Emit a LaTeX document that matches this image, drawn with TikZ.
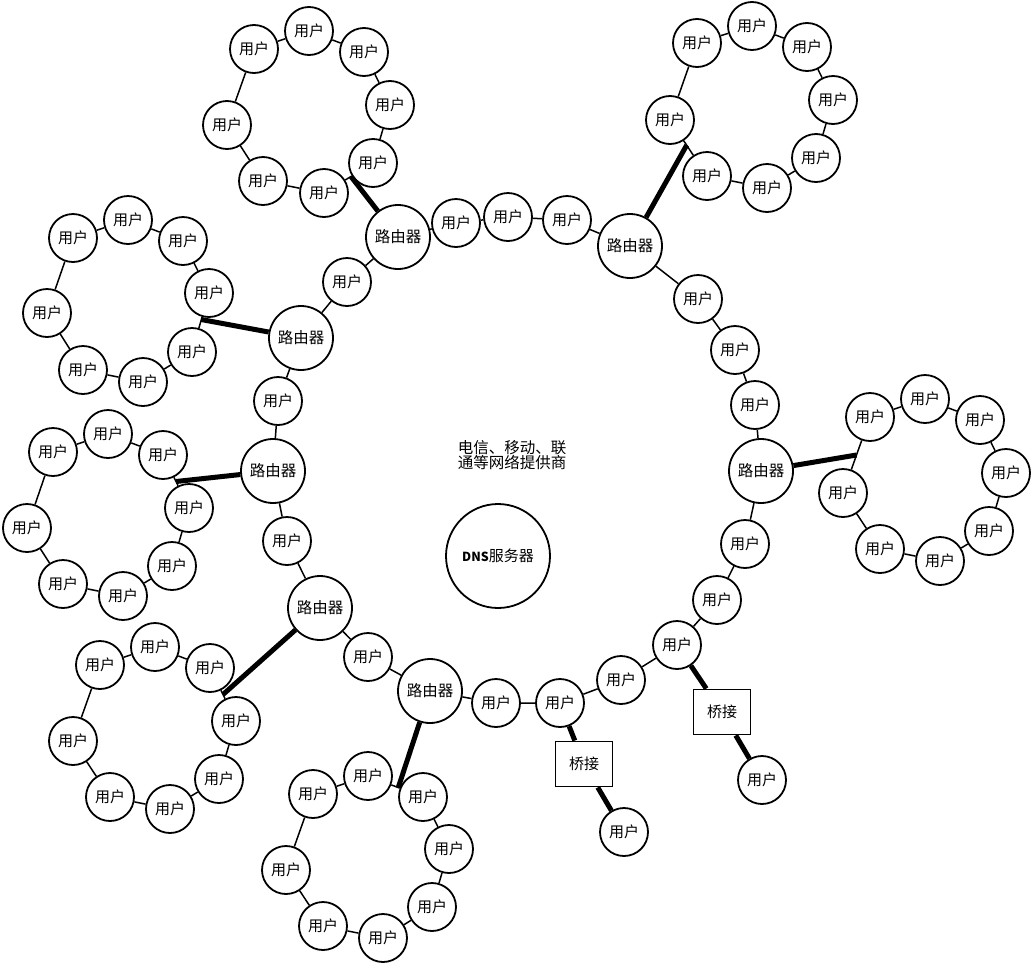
\documentclass[tikz,border=0pt]{standalone}
\usepackage{fontspec}
\setmainfont{Noto Sans CJK SC}
\usetikzlibrary{calc}

\tikzset{
  yonghu/.style={circle, draw, line width=1.8pt, fill=white, minimum size=48pt, inner sep=0pt, font=\fontsize{15}{15}\selectfont},
  luyou/.style={circle, draw, line width=1.8pt, fill=white, minimum size=64pt, inner sep=0pt, font=\fontsize{15.5}{15}\selectfont},
  qiaojie/.style={rectangle, draw, line width=1.8pt, fill=white, minimum width=57pt, minimum height=45pt, inner sep=0pt, font=\fontsize{15}{15}\selectfont},
  xian/.style={line width=1.5pt},
  cuxian/.style={line width=5pt},
}

\begin{document}
\begin{tikzpicture}[x=1pt, y=-1pt]
  \useasboundingbox (0,0) rectangle (1032,964);

  % 主环：路由器
  \node[luyou] (r1) at (398,237) {路由器};
  \node[luyou] (r2) at (630,246) {路由器};
  \node[luyou] (r3) at (761,471) {路由器};
  \node[luyou] (r4) at (301,338) {路由器};
  \node[luyou] (r5) at (273,471) {路由器};
  \node[luyou] (r6) at (320,608) {路由器};
  \node[luyou] (r7) at (430,691) {路由器};

  % 主环：用户
  \node[yonghu] (m1) at (456,223) {用户};
  \node[yonghu] (m2) at (508,217) {用户};
  \node[yonghu] (m3) at (567,220) {用户};
  \node[yonghu] (m4) at (698,299) {用户};
  \node[yonghu] (m5) at (735,350) {用户};
  \node[yonghu] (m6) at (755,405) {用户};
  \node[yonghu] (m7) at (745,544) {用户};
  \node[yonghu] (m8) at (717,600) {用户};
  \node[yonghu] (m9) at (677,645) {用户};
  \node[yonghu] (m10) at (621,680) {用户};
  \node[yonghu] (m11) at (560,703) {用户};
  \node[yonghu] (m12) at (496,703) {用户};
  \node[yonghu] (m13) at (368,657) {用户};
  \node[yonghu] (m14) at (287,541) {用户};
  \node[yonghu] (m15) at (278,401) {用户};
  \node[yonghu] (m16) at (347,282) {用户};

  \draw[xian] (r1) -- (m1) -- (m2) -- (m3) -- (r2) -- (m4) -- (m5) -- (m6) -- (r3)
    -- (m7) -- (m8) -- (m9) -- (m10) -- (m11) -- (m12) -- (r7) -- (m13) -- (r6)
    -- (m14) -- (r5) -- (m15) -- (r4) -- (m16) -- (r1);

  % 中间
  \node[align=center, font=\fontsize{15.5}{15}\selectfont] (isp) at (512,455) {电信、移动、联\\通等网络提供商};
  \node[circle, draw, line width=1.8pt, fill=white, minimum size=104pt, inner sep=0pt, font=\fontsize{15}{15}\selectfont] (dns) at (498,556) {{\fontsize{12.5}{12}\selectfont\bfseries DNS}服务器};

  % 环 A（左上）
  \node[yonghu] (a1) at (254,49) {用户};
  \node[yonghu] (a2) at (309,31) {用户};
  \node[yonghu] (a3) at (364,52) {用户};
  \node[yonghu] (a4) at (390,105) {用户};
  \node[yonghu] (a5) at (373,163) {用户};
  \node[yonghu] (a6) at (324,193) {用户};
  \node[yonghu] (a7) at (263,181) {用户};
  \node[yonghu] (a8) at (227,125) {用户};
  \draw[xian] (a1) -- (a2) -- (a3) -- (a4) -- (a5) -- (a6) -- (a7) -- (a8) -- (a1);

  % 环 B（右上）
  \node[yonghu] (b1) at (697,43) {用户};
  \node[yonghu] (b2) at (752,26) {用户};
  \node[yonghu] (b3) at (807,47) {用户};
  \node[yonghu] (b4) at (833,100) {用户};
  \node[yonghu] (b5) at (816,158) {用户};
  \node[yonghu] (b6) at (767,188) {用户};
  \node[yonghu] (b7) at (707,176) {用户};
  \node[yonghu] (b8) at (670,120) {用户};
  \draw[xian] (b1) -- (b2) -- (b3) -- (b4) -- (b5) -- (b6) -- (b7) -- (b8) -- (b1);

  % 环 C（右）
  \node[yonghu] (c1) at (870,417) {用户};
  \node[yonghu] (c2) at (925,399) {用户};
  \node[yonghu] (c3) at (980,420) {用户};
  \node[yonghu] (c4) at (1006,473) {用户};
  \node[yonghu] (c5) at (989,531) {用户};
  \node[yonghu] (c6) at (940,561) {用户};
  \node[yonghu] (c7) at (880,549) {用户};
  \node[yonghu] (c8) at (843,493) {用户};
  \draw[xian] (c1) -- (c2) -- (c3) -- (c4) -- (c5) -- (c6) -- (c7) -- (c8) -- (c1);

  % 环 D（左上）
  \node[yonghu] (d1) at (73,238) {用户};
  \node[yonghu] (d2) at (128,220) {用户};
  \node[yonghu] (d3) at (183,241) {用户};
  \node[yonghu] (d4) at (209,293) {用户};
  \node[yonghu] (d5) at (192,352) {用户};
  \node[yonghu] (d6) at (143,382) {用户};
  \node[yonghu] (d7) at (83,370) {用户};
  \node[yonghu] (d8) at (47,313) {用户};
  \draw[xian] (d1) -- (d2) -- (d3) -- (d4) -- (d5) -- (d6) -- (d7) -- (d8) -- (d1);

  % 环 E（左）
  \node[yonghu] (e1) at (53,452) {用户};
  \node[yonghu] (e2) at (108,434) {用户};
  \node[yonghu] (e3) at (163,455) {用户};
  \node[yonghu] (e4) at (189,508) {用户};
  \node[yonghu] (e5) at (172,566) {用户};
  \node[yonghu] (e6) at (123,596) {用户};
  \node[yonghu] (e7) at (63,584) {用户};
  \node[yonghu] (e8) at (27,528) {用户};
  \draw[xian] (e1) -- (e2) -- (e3) -- (e4) -- (e5) -- (e6) -- (e7) -- (e8) -- (e1);

  % 环 F（左下）
  \node[yonghu] (f1) at (100,665) {用户};
  \node[yonghu] (f2) at (155,647) {用户};
  \node[yonghu] (f3) at (210,668) {用户};
  \node[yonghu] (f4) at (236,721) {用户};
  \node[yonghu] (f5) at (219,779) {用户};
  \node[yonghu] (f6) at (170,809) {用户};
  \node[yonghu] (f7) at (110,797) {用户};
  \node[yonghu] (f8) at (73,741) {用户};
  \draw[xian] (f1) -- (f2) -- (f3) -- (f4) -- (f5) -- (f6) -- (f7) -- (f8) -- (f1);

  % 环 G（下）
  \node[yonghu] (g1) at (313,794) {用户};
  \node[yonghu] (g2) at (368,776) {用户};
  \node[yonghu] (g3) at (423,797) {用户};
  \node[yonghu] (g4) at (449,849) {用户};
  \node[yonghu] (g5) at (432,907) {用户};
  \node[yonghu] (g6) at (383,938) {用户};
  \node[yonghu] (g7) at (323,926) {用户};
  \node[yonghu] (g8) at (286,870) {用户};
  \draw[xian] (g1) -- (g2) -- (g3) -- (g4) -- (g5) -- (g6) -- (g7) -- (g8) -- (g1);

  % 路由器到各环
  \coordinate (ja) at ($(a5)!0.45!(a6)$);
  \coordinate (jb) at ($(b7)!0.55!(b8)$);
  \coordinate (jc) at ($(c1)!0.5!(c8)$);
  \coordinate (jd) at ($(d4)!0.45!(d5)$);
  \coordinate (je) at ($(e3)!0.5!(e4)$);
  \coordinate (jf) at ($(f3)!0.5!(f4)$);
  \coordinate (jg) at ($(g2)!0.55!(g3)$);
  \draw[cuxian] (r1) -- (ja);
  \draw[cuxian] (r2) -- (jb);
  \draw[cuxian] (r3) -- (jc);
  \draw[cuxian] (r4) -- (jd);
  \draw[cuxian] (r5) -- (je);
  \draw[cuxian] (r6) -- (jf);
  \draw[cuxian] (r7) -- (jg);

  % 桥接
  \node[qiaojie] (q1) at (584,764) {桥接};
  \node[qiaojie] (q2) at (722,712) {桥接};
  \node[yonghu] (t1) at (624,832) {用户};
  \node[yonghu] (t2) at (762,780) {用户};
  \draw[cuxian] (m11) -- (q1) -- (t1);
  \draw[cuxian] (m9) -- (q2) -- (t2);
\end{tikzpicture}
\end{document}
